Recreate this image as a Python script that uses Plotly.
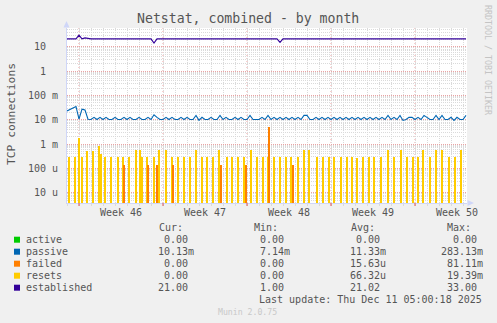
import re
import pandas as pd
import plotly.graph_objects as go

# ---------------- data ----------------
start = "2025-11-08 00:00"
end = "2025-12-11 08:00"

# passive connections (milli-connections/s), 6-hour samples from start
passive_m = [
    23, 27, 30, 35, 10.5, 27, 25, 10.5, 10.2, 12.5,
    10.2, 12.5, 10.2, 12.5, 10.2, 10.2, 12.5, 10.2, 10.2, 12.5,
    10.2, 12.5, 10.2, 10.2, 12.5, 10.2, 10.2, 12.5, 10.2, 16,
    12.5, 10.2, 10.2, 12.5, 10.2, 12.5, 10.2, 10.2, 12.5, 10.2,
    12.5, 10.2, 10.2, 15, 9.4, 12.5, 10.2, 10.2, 12.5, 10.2,
    10.2, 15, 10.2, 12.5, 10.2, 10.2, 12.5, 10.2, 12.5, 10.2,
    10.2, 15, 10.2, 10.2, 10.2, 12.5, 10.2, 15, 10.2, 12.5,
    10.2, 12.5, 10.2, 12.5, 10.2, 12.5, 10.2, 12.5, 10.2, 15,
    15, 10.2, 10.2, 12.5, 10.2, 12.5, 10.2, 12.5, 10.2, 12.5,
    10.2, 12.5, 10.2, 12.5, 10.2, 12.5, 10.2, 12.5, 10.2, 12.5,
    10.2, 12.5, 10.2, 12.5, 10.2, 12.5, 10.2, 15, 10.2, 12.5,
    10.2, 15, 9.3, 10.2, 12.5, 12.5, 10.2, 12.5, 10.2, 15,
    12.5, 10.2, 10.2, 15, 10.2, 15, 10.2, 10.2, 12.5, 9.3,
    12.5, 10.2, 10.2, 15,
]

# established connections, 6-hour samples from start
established = [
    21, 21, 21, 21, 30, 21, 23, 21.5, 21, 21,
    21, 21, 21, 21, 21, 21, 21, 21, 21, 21,
    21, 21, 21, 21, 21, 21, 21, 21, 21, 14,
    21, 21, 21, 21, 21, 21, 21, 21, 21, 21,
    21, 21, 21, 21, 21, 21, 21, 21, 21, 21,
    21, 21, 21, 21, 21, 21, 21, 21, 21, 21,
    21, 21, 21, 21, 21, 21, 21, 21, 21, 21,
    21, 15, 21, 21, 21, 21, 21, 21, 21, 21,
    21, 21, 21, 21, 21, 21, 21, 21, 21, 21,
    21, 21, 21, 21, 21, 21, 21, 21, 21, 21,
    21, 21, 21, 21, 21, 21, 21, 21, 21, 21,
    21, 21, 21, 21, 21, 21, 21, 21, 21, 21,
    21, 21, 21, 21, 21, 21, 21, 21, 21, 21,
    21, 21, 21, 21,
]

reset_times = [
    "2025-11-08 04:00", "2025-11-08 16:00", "2025-11-09 00:00", "2025-11-09 06:00", "2025-11-09 16:00",
    "2025-11-10 04:00", "2025-11-10 16:00", "2025-11-10 20:00", "2025-11-11 04:00", "2025-11-11 16:00",
    "2025-11-12 06:00", "2025-11-12 16:00", "2025-11-13 04:00", "2025-11-13 18:00", "2025-11-14 02:00",
    "2025-11-14 06:00", "2025-11-14 16:00", "2025-11-15 06:00", "2025-11-15 16:00", "2025-11-16 06:00",
    "2025-11-16 18:00", "2025-11-17 06:00", "2025-11-17 18:00", "2025-11-18 06:00", "2025-11-18 18:00",
    "2025-11-19 06:00", "2025-11-19 16:00", "2025-11-20 04:00", "2025-11-20 16:00", "2025-11-21 08:00",
    "2025-11-21 18:00", "2025-11-22 06:00", "2025-11-22 18:00", "2025-11-23 08:00", "2025-11-23 20:00",
    "2025-11-24 08:00", "2025-11-24 18:00", "2025-11-25 06:00", "2025-11-25 18:00", "2025-11-26 06:00",
    "2025-11-26 16:00", "2025-11-27 06:00", "2025-11-27 18:00", "2025-11-28 04:00", "2025-11-28 20:00",
    "2025-11-29 08:00", "2025-11-29 20:00", "2025-11-30 06:00", "2025-11-30 20:00", "2025-12-01 08:00",
    "2025-12-01 18:00", "2025-12-02 04:00", "2025-12-02 16:00", "2025-12-03 04:00", "2025-12-03 14:00",
    "2025-12-04 04:00", "2025-12-04 18:00", "2025-12-05 06:00", "2025-12-05 20:00", "2025-12-06 08:00",
    "2025-12-06 20:00", "2025-12-07 06:00", "2025-12-07 16:00", "2025-12-08 06:00", "2025-12-08 18:00",
    "2025-12-09 06:00", "2025-12-09 20:00", "2025-12-10 08:00", "2025-12-10 20:00",
]
reset_values = [
    284e-6, 284e-6, 1.76e-3, 284e-6, 530e-6,
    530e-6, 830e-6, 400e-6, 284e-6, 284e-6,
    284e-6, 284e-6, 284e-6, 560e-6, 560e-6,
    284e-6, 284e-6, 284e-6, 560e-6, 560e-6,
    284e-6, 284e-6, 284e-6, 284e-6, 560e-6,
    284e-6, 284e-6, 284e-6, 560e-6, 284e-6,
    284e-6, 284e-6, 284e-6, 560e-6, 300e-6,
    300e-6, 300e-6, 300e-6, 300e-6, 300e-6,
    300e-6, 300e-6, 560e-6, 560e-6, 300e-6,
    300e-6, 300e-6, 300e-6, 300e-6, 300e-6,
    300e-6, 260e-6, 300e-6, 300e-6, 300e-6,
    300e-6, 560e-6, 300e-6, 560e-6, 300e-6,
    300e-6, 300e-6, 560e-6, 300e-6, 560e-6,
    560e-6, 300e-6, 300e-6, 560e-6,
]

failed_times = [
    "2025-11-12 18:00", "2025-11-14 18:00", "2025-11-15 12:00", "2025-11-16 20:00",
    "2025-11-20 20:00", "2025-11-22 22:00", "2025-11-24 20:00", "2025-11-26 20:00",
]
failed_values = [138e-6, 138e-6, 138e-6, 138e-6, 138e-6, 138e-6, 5.1e-3, 140e-6]

week_starts = ["2025-11-09", "2025-11-16", "2025-11-23", "2025-11-30", "2025-12-07"]
week_label_pos = ["2025-11-12 12:00", "2025-11-19 12:00", "2025-11-26 12:00",
                  "2025-12-03 12:00", "2025-12-10 12:00"]
week_labels = ["Week 46", "Week 47", "Week 48", "Week 49", "Week 50"]

y_tickvals = [1e-5, 1e-4, 1e-3, 1e-2, 1e-1, 1, 10]
y_ticktext = ["10 u", "100 u", "1 m", "10 m", "100 m", "1\u00a0\u00a0", "10\u00a0\u00a0"]

legend_names = ["active", "passive", "failed", "resets", "established"]
legend_colors = ["#00CC00", "#0066B3", "#FF8000", "#FFCC00", "#330099"]
col_heads = ["Cur:", "Min:", "Avg:", "Max:"]
cur_vals = ["0.00", "10.13m", "0.00", "0.00", "21.00"]
min_vals = ["0.00", "7.14m", "0.00", "0.00", "1.00"]
avg_vals = ["0.00", "11.33m", "15.63u", "66.32u", "21.02"]
max_vals = ["0.00", "283.13m", "81.11m", "19.39m", "33.00"]

title = "Netstat, combined - by month"
y_title = "TCP connections"
last_update = "Last update: Thu Dec 11 05:00:18 2025"
footer = "Munin 2.0.75"
side_text = "RRDTOOL / TOBI OETIKER"

# ---------------- styling ----------------
MONO = "DejaVu Sans Mono"
FONT_C = "#555555"
AXIS_C = "#CFD6F8"
GRID_C = "#DADADA"
MGRID_C = "#EBA3A3"
L, R, T, B = 67, 467, 28, 203
W, H = R - L, B - T
BAR_W = 2.2 * 3600 * 1000


def fx(px):
    return (px - L) / W


def fy(py):
    return (B - py) / H


times = pd.date_range(start, periods=len(passive_m), freq="6h")
passive = [v * 1e-3 for v in passive_m]

fig = go.Figure()
# pale halo behind the spikes (anti-aliasing look of the original)
fig.add_trace(go.Bar(x=reset_times, y=[v * 0.6 for v in reset_values], width=BAR_W * 2.6,
                     marker=dict(color="rgba(255,221,90,0.45)", line=dict(width=0)),
                     hoverinfo="skip"))
fig.add_trace(go.Bar(x=reset_times, y=reset_values, width=BAR_W,
                     marker=dict(color="#FFCC00", line=dict(width=0)), name="resets"))
fig.add_trace(go.Bar(x=failed_times, y=failed_values, width=BAR_W,
                     marker=dict(color="#FF8000", line=dict(width=0)), name="failed"))
fig.add_trace(go.Scatter(x=times, y=passive, mode="lines",
                         line=dict(color="#0066B3", width=1.1), name="passive"))
fig.add_trace(go.Scatter(x=times, y=established, mode="lines",
                         line=dict(color="#330099", width=1.1), name="established"))

minor_y = [m * 10 ** e for e in range(-6, 2) for m in range(2, 10)]

fig.update_layout(
    width=497, height=323,
    margin=dict(l=L, r=497 - R, t=T, b=323 - B, pad=0),
    paper_bgcolor="#F0F0F0", plot_bgcolor="#FFFFFF",
    showlegend=False, barmode="overlay", bargap=0,
    font=dict(family=MONO, size=10, color=FONT_C),
    xaxis=dict(
        type="date", range=[start, end],
        tickmode="array", tickvals=week_label_pos, ticktext=week_labels,
        showgrid=False, ticks="", zeroline=False,
        showline=True, linecolor=AXIS_C, linewidth=1,
        tickfont=dict(family=MONO, size=10, color=FONT_C),
        minor=dict(dtick=86400000, tick0="2025-11-08", showgrid=True,
                   gridcolor=GRID_C, griddash="1px,1px", gridwidth=1,
                   ticks="outside", ticklen=2, tickcolor=GRID_C),
    ),
    yaxis=dict(
        type="log", range=[-5.423, 1.768],
        tickmode="array", tickvals=y_tickvals, ticktext=y_ticktext,
        showgrid=True, gridcolor=MGRID_C, griddash="1px,1px", gridwidth=1,
        ticks="", zeroline=False, ticklabelstandoff=6,
        showline=True, linecolor=AXIS_C, linewidth=1,
        tickfont=dict(family=MONO, size=10, color=FONT_C),
        minor=dict(tickmode="array", tickvals=minor_y, showgrid=True,
                   gridcolor=GRID_C, griddash="1px,1px", gridwidth=1),
    ),
)

shapes = []
for ws in week_starts:
    shapes.append(dict(type="line", xref="x", yref="paper", x0=ws, x1=ws, y0=0, y1=1,
                       line=dict(color=MGRID_C, width=1, dash="1px,2px"), layer="between"))
    shapes.append(dict(type="line", xref="x", yref="paper", x0=ws, x1=ws, y0=0, y1=fy(206),
                       line=dict(color="#E05050", width=1), layer="above"))
# axis arrows
shapes.append(dict(type="path", xref="paper", yref="paper",
                   path=f"M {fx(66.5)},{fy(21)} L {fx(63.5)},{fy(27.5)} L {fx(69.5)},{fy(27.5)} Z",
                   fillcolor=AXIS_C, line=dict(width=0), layer="above"))
shapes.append(dict(type="path", xref="paper", yref="paper",
                   path=f"M {fx(474)},{fy(203)} L {fx(467.5)},{fy(200)} L {fx(467.5)},{fy(206)} Z",
                   fillcolor=AXIS_C, line=dict(width=0), layer="above"))
# legend colour boxes
row_y = [239.7, 251.7, 263.7, 275.7, 287.7]
for c, ry in zip(legend_colors, row_y):
    shapes.append(dict(type="rect", xref="paper", yref="paper",
                       x0=fx(14), x1=fx(20), y0=fy(ry + 3), y1=fy(ry - 3),
                       fillcolor=c, line=dict(width=0), layer="above"))
fig.update_layout(shapes=shapes)


def ann(text, px, py, anchor="left", size=10, color=FONT_C, angle=0):
    return dict(text=text, x=fx(px), y=fy(py), xref="paper", yref="paper",
                xanchor=anchor, yanchor="middle", showarrow=False,
                font=dict(family=MONO, size=size, color=color),
                borderpad=0, borderwidth=0, textangle=angle)


anns = [
    ann(title, 247.5, 18.5, anchor="center", size=13.2),
    ann(y_title, 11, 114, anchor="center", size=11.3, angle=-90),
    ann(side_text, 488, 60, anchor="center", size=8.3, color="#C4C4C4", angle=90),
    ann(last_update, 482, 299.7, anchor="right"),
    ann(footer, 247.5, 312, anchor="center", size=8.2, color="#C8C8C8"),
]
head_left = [159, 254, 351, 447]
num_right = [188, 284, 380, 477]
for h, hx in zip(col_heads, head_left):
    anns.append(ann(h, hx, 227.7))
for name, ry in zip(legend_names, row_y):
    anns.append(ann(name, 26.3, ry))
for col, rx in zip([cur_vals, min_vals, avg_vals, max_vals], num_right):
    for v, ry in zip(col, row_y):
        m = re.match(r"^([\d.]+)([a-zA-Z]?)$", v)
        anns.append(ann(m.group(1), rx, ry, anchor="right"))
        if m.group(2):
            anns.append(ann(m.group(2), rx, ry, anchor="left"))
fig.update_layout(annotations=anns)

fig.write_html("out.html")
